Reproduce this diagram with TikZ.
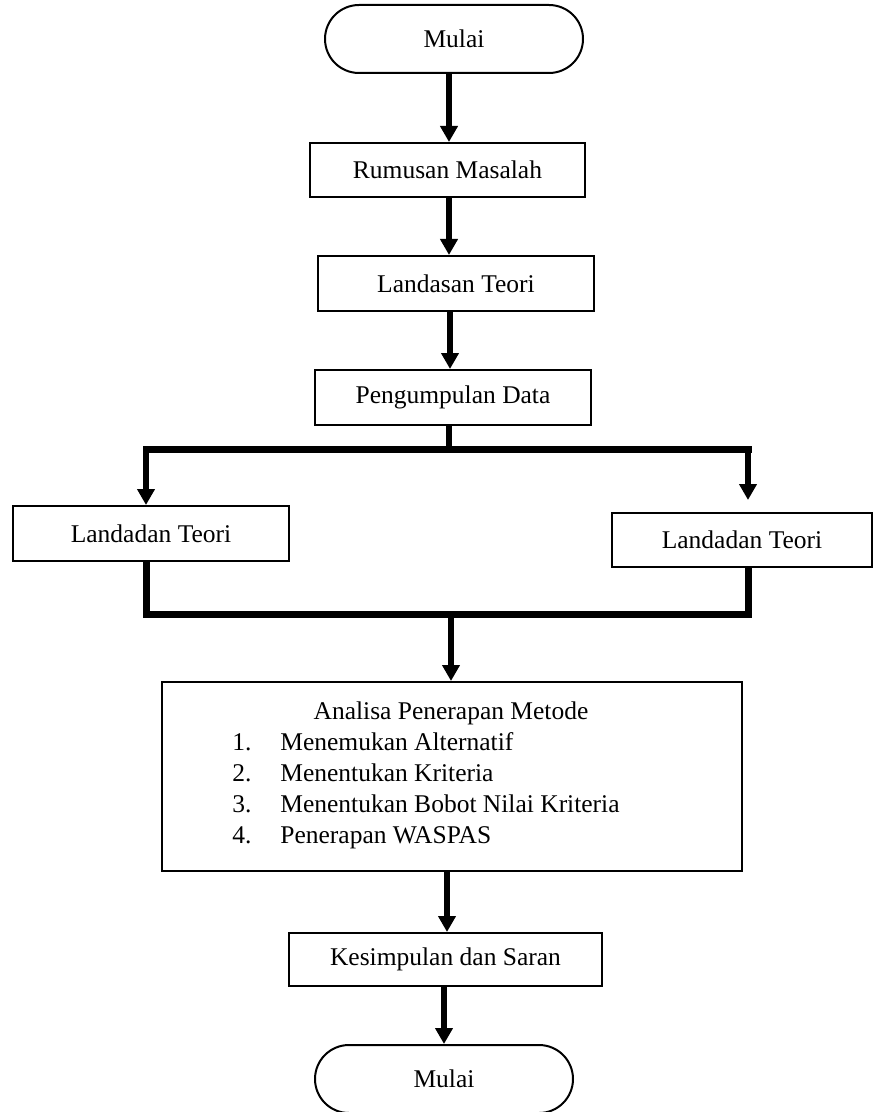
\documentclass[tikz,border=0pt]{standalone}
\usepackage{fontspec}
\setmainfont{Liberation Serif}
\usetikzlibrary{arrows.meta}
\begin{document}
\begin{tikzpicture}[x=0.5pt,y=-0.5pt,
  every node/.style={font=\fontsize{12.75}{15.5}\selectfont, inner sep=0pt},
  box/.style={draw, line width=1pt, rectangle, minimum width=138pt, minimum height=27.5pt},
  term/.style={draw, line width=1pt, rectangle, rounded corners=17pt, minimum width=129pt, minimum height=34pt},
  arr/.style={line width=3pt, -{Triangle[width=8.5pt,length=8pt]}},
  branch/.style={line width=3.5pt, line join=miter}
]
\useasboundingbox (0,0) rectangle (875,1112);
% nodes
\node[term] (t1) at (454,39) {Mulai};
\node[box, minimum width=137.5pt, minimum height=27pt] (r) at (447.5,170) {Rumusan Masalah};
\node[box] (l) at (456,283.5) {Landasan Teori};
\node[box] (p) at (453,397.5) {Pengumpulan Data};
\node[box] (L) at (151,533.5) {Landadan Teori};
\node[box, minimum width=130pt, minimum height=27pt] (R) at (742,540) {Landadan Teori};
\node[box, minimum width=290pt, minimum height=94.5pt] (big) at (452,776.5) {};
\node[anchor=base] (bt) at (451,719) {Analisa Penerapan Metode};
\node[anchor=north west] (bl) at (232,728) {\begin{tabular}[t]{@{}p{24pt}@{}l@{}}
1.&Menemukan Alternatif\\
2.&Menentukan Kriteria\\
3.&Menentukan Bobot Nilai Kriteria\\
4.&Penerapan WASPAS
\end{tabular}};
\node[box, minimum width=156.5pt, minimum height=26.5pt] (k) at (445.5,959.5) {Kesimpulan dan Saran};
\node[term] (t2) at (444,1079) {Mulai};
% column coordinates
\coordinate (a1) at (449,0);
\coordinate (a2) at (449,0);
\coordinate (a3) at (450,0);
\coordinate (a4) at (449,449);
\coordinate (a5) at (451,614);
\coordinate (a6) at (447,0);
\coordinate (a7) at (444,0);
\coordinate (bl1) at (146,449);
\coordinate (br1) at (748,449);
\coordinate (bl2) at (146,614);
\coordinate (br2) at (748,614);
% arrows
\draw[arr] (t1.south -| a1) -- (r.north -| a1);
\draw[arr] (r.south -| a2) -- (l.north -| a2);
\draw[arr] (l.south -| a3) -- (p.north -| a3);
\draw[line width=3pt] (p.south -| a4) -- (a4);
\draw[branch, line cap=rect] (bl1) -- (br1);
\draw[arr] (bl1) -- (L.north -| bl1);
\draw[arr, shorten >=6pt] (br1) -- (R.north -| br1);
\draw[branch] (L.south -| bl2) -- (bl2) -- (br2) -- (R.south -| br2);
\draw[arr] (a5) -- (big.north -| a5);
\draw[arr] (big.south -| a6) -- (k.north -| a6);
\draw[arr] (k.south -| a7) -- (t2.north -| a7);
\end{tikzpicture}
\end{document}
